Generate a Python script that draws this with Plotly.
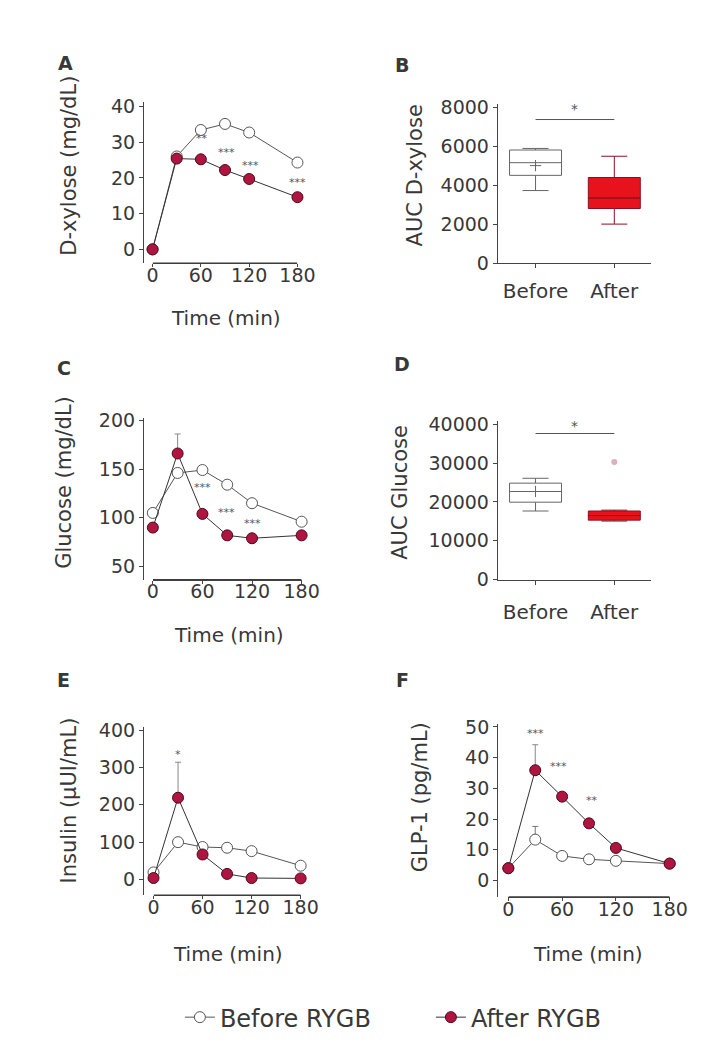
import plotly.graph_objects as go

W, H = 707, 1057

# ---------------- data ----------------
time = [0, 30, 60, 90, 120, 180]

xylose_before = [0, 26.0, 33.4, 35.1, 32.7, 24.3]
xylose_after = [0, 25.4, 25.2, 22.2, 19.7, 14.6]

glucose_before = [105, 146, 149, 134, 115, 96]
glucose_after = [90, 166, 104, 82, 79, 82]
glucose_after_err = [0, 20, 0, 0, 0, 0]

insulin_before = [19, 100, 87, 85, 76, 37]
insulin_after = [4, 219, 67, 15, 4, 3]
insulin_after_err = [0, 95, 0, 0, 0, 0]

glp1_before = [4.0, 13.3, 8.0, 6.9, 6.4, 5.5]
glp1_after = [4.0, 35.9, 27.3, 18.6, 10.6, 5.5]
glp1_before_err = [0, 4.3, 0, 0, 0, 0]
glp1_after_err = [0, 8.3, 0, 0, 0, 0]

groups = ["Before", "After"]
group_pos = [0, 1]

auc_xylose_lower = [3720, 2000]
auc_xylose_q1 = [4500, 2800]
auc_xylose_median = [5150, 3340]
auc_xylose_q3 = [5800, 4390]
auc_xylose_upper = [5880, 5480]
auc_xylose_mean = [5000, 3330]

auc_glucose_lower = [17680, 15100]
auc_glucose_q1 = [19950, 15330]
auc_glucose_median = [22700, 16500]
auc_glucose_q3 = [24850, 17680]
auc_glucose_upper = [26100, 17900]
auc_glucose_mean = [22700, 16500]
auc_glucose_outlier_after = [30300]

# significance marks (time, value, label)
stars_A = [(61, 31.1, "**"), (92, 27.2, "***"), (122, 23.4, "***"), (180, 18.8, "***")]
stars_C = [(60, 131.5, "***"), (89, 105.4, "***"), (120, 94.3, "***")]
stars_E = [(30, 335, "*")]
stars_F = [(30.5, 47.9, "***"), (56, 37.2, "***"), (93, 26.0, "**")]
sig_B = 7363
sig_D = 37626

# ---------------- style ----------------
FONT = "DejaVu Sans"
TXT = "#383838"
AXC = "#444444"
RED_MK = "#b01440"
RED_MK_LINE = "#4a0a1a"
OPEN_LINE = "#555555"
BOX_RED = "#e8121c"
BOX_RED_LINE = "#8a1020"


def fx(px):
    return px / W


def fy(py):
    return 1 - py / H


axis_common = dict(
    showline=True, linecolor=AXC, linewidth=1, ticks="outside", ticklen=4,
    tickcolor=AXC, tickwidth=1, showgrid=False, zeroline=False,
    tickfont=dict(family=FONT, size=19, color=TXT),
)

fig = go.Figure()


def add_time_panel(n, before, after, before_err=None, after_err=None, legend=False):
    xa = "x" if n == 1 else f"x{n}"
    ya = "y" if n == 1 else f"y{n}"
    eb = None
    if before_err is not None:
        eb = dict(type="data", symmetric=False, array=before_err,
                  arrayminus=[0] * len(before_err), color="#777777", thickness=1, width=3)
    ea = None
    if after_err is not None:
        ea = dict(type="data", symmetric=False, array=after_err,
                  arrayminus=[0] * len(after_err), color="#888888", thickness=1, width=3)
    fig.add_trace(go.Scatter(
        x=time, y=before, mode="lines+markers", name="Before RYGB",
        line=dict(color=OPEN_LINE, width=1),
        marker=dict(symbol="circle", size=11, color="white",
                    line=dict(color=OPEN_LINE, width=1)),
        error_y=eb, xaxis=xa, yaxis=ya, cliponaxis=False,
        showlegend=legend, legendgroup="b"))
    fig.add_trace(go.Scatter(
        x=time, y=after, mode="lines+markers", name="After RYGB",
        line=dict(color="#333333", width=1),
        marker=dict(symbol="circle", size=11, color=RED_MK,
                    line=dict(color=RED_MK_LINE, width=1)),
        error_y=ea, xaxis=xa, yaxis=ya, cliponaxis=False,
        showlegend=legend, legendgroup="a"))


add_time_panel(1, xylose_before, xylose_after, legend=True)
add_time_panel(3, glucose_before, glucose_after, after_err=glucose_after_err)
add_time_panel(5, insulin_before, insulin_after, after_err=insulin_after_err)
add_time_panel(6, glp1_before, glp1_after, before_err=glp1_before_err, after_err=glp1_after_err)


def add_box_panel(n, lower, q1, med, q3, upper, mean):
    xa, ya = f"x{n}", f"y{n}"
    fills = ["white", BOX_RED]
    lines = ["#666666", BOX_RED_LINE]
    for i in range(2):
        fig.add_trace(go.Box(
            x=[group_pos[i]], q1=[q1[i]], median=[med[i]], q3=[q3[i]],
            lowerfence=[lower[i]], upperfence=[upper[i]], mean=[mean[i]],
            boxmean=(i == 1), width=0.66, whiskerwidth=0.5,
            fillcolor=fills[i], line=dict(color=lines[i], width=1),
            boxpoints=False, xaxis=xa, yaxis=ya, showlegend=False))
    fig.add_trace(go.Scatter(
        x=[group_pos[0]], y=[mean[0]], mode="markers",
        marker=dict(symbol="cross-thin", size=8, line=dict(color="#666666", width=1)),
        xaxis=xa, yaxis=ya, showlegend=False))


add_box_panel(2, auc_xylose_lower, auc_xylose_q1, auc_xylose_median,
              auc_xylose_q3, auc_xylose_upper, auc_xylose_mean)
add_box_panel(4, auc_glucose_lower, auc_glucose_q1, auc_glucose_median,
              auc_glucose_q3, auc_glucose_upper, auc_glucose_mean)
fig.add_trace(go.Scatter(
    x=[group_pos[1]], y=auc_glucose_outlier_after, mode="markers",
    marker=dict(symbol="circle", size=6, color="#dcb0bc"),
    xaxis="x4", yaxis="y4", showlegend=False))

# ---------------- axes ----------------
time_x = dict(axis_common, range=[0, 180], tickvals=[0, 60, 120, 180],
              ticklen=3, ticklabelstandoff=-8)
cat_x = dict(axis_common, range=[-0.48, 1.47], tickvals=group_pos, ticktext=groups,
             tickfont=dict(family=FONT, size=20, color=TXT), ticklabelstandoff=6)

layout = dict(
    width=W, height=H, margin=dict(l=0, r=0, t=0, b=0),
    paper_bgcolor="white", plot_bgcolor="white",
    font=dict(family=FONT, color=TXT),
    # A
    xaxis=dict(time_x, domain=[fx(151.7), fx(301.7)], anchor="y"),
    yaxis=dict(axis_common, domain=[fy(259), fy(95)], range=[-3.84, 41.18],
               tickvals=[0, 10, 20, 30, 40], anchor="free", position=fx(141.7)),
    # B
    xaxis2=dict(cat_x, domain=[fx(509), fx(668)], anchor="y2"),
    yaxis2=dict(axis_common, domain=[fy(259), fy(96.7)], range=[0, 8166],
                tickvals=[0, 2000, 4000, 6000, 8000], tickformat="d", anchor="x2"),
    # C
    xaxis3=dict(time_x, domain=[fx(152), fx(306)], anchor="y3"),
    yaxis3=dict(axis_common, domain=[fy(581.7), fy(416.7)], range=[36.5, 202.6],
                tickvals=[50, 100, 150, 200], anchor="free", position=fx(141.7)),
    # D
    xaxis4=dict(cat_x, domain=[fx(509), fx(668)], anchor="y4", ticklabelstandoff=10),
    yaxis4=dict(axis_common, domain=[fy(581.7), fy(420)], range=[0, 40833],
                tickvals=[0, 10000, 20000, 30000, 40000], tickformat="d", anchor="x4"),
    # E
    xaxis5=dict(time_x, domain=[fx(152.7), fx(305)], anchor="y5"),
    yaxis5=dict(axis_common, domain=[fy(903.3), fy(731.7)], range=[-42, 408.7],
                tickvals=[0, 100, 200, 300, 400], anchor="free", position=fx(141.7)),
    # F
    xaxis6=dict(time_x, domain=[fx(520), fx(687)], anchor="y6"),
    yaxis6=dict(axis_common, domain=[fy(905), fy(728.3)], range=[-5.33, 51.1],
                tickvals=[0, 10, 20, 30, 40, 50], anchor="free", position=fx(508.3)),
    showlegend=True,
    legend=dict(orientation="h", x=fx(180), xanchor="left", y=fy(1028), yanchor="middle",
                font=dict(family=FONT, size=24, color=TXT), entrywidth=206,
                entrywidthmode="pixels", bgcolor="rgba(0,0,0,0)"),
)
fig.update_layout(**layout)

# ---------------- annotations ----------------
ann = []


def txt(x, y, s, size=20, angle=0, bold=False):
    ann.append(dict(x=fx(x), y=fy(y), xref="paper", yref="paper", text=f"<b>{s}</b>" if bold else s,
                    showarrow=False, textangle=angle, xanchor="center", yanchor="middle",
                    font=dict(family=FONT, size=size, color=TXT)))


# panel letters
for lab, (x, y) in zip("ABCDEF", [(62, 55), (410, 57), (60, 366), (410, 362), (60, 684), (410, 684)]):
    txt(x, y, lab, size=19, bold=True)

# y titles
txt(65, 160, "D-xylose (mg/dL)", size=21, angle=-90)
txt(423, 170, "AUC D-xylose", size=21, angle=-90)
txt(60, 482, "Glucose (mg/dL)", size=21, angle=-90)
txt(407, 493, "AUC Glucose", size=21, angle=-90)
txt(65, 807, "Insulin (µUI/mL)", size=21, angle=-90)
txt(428, 803, "GLP-1 (pg/mL)", size=21, angle=-90)
# x titles
txt(228, 315, "Time (min)", size=20)
txt(231, 638, "Time (min)", size=20)
txt(230, 963, "Time (min)", size=20)
txt(602, 963, "Time (min)", size=20)

# significance stars on time courses
for xa, ya, stars in [("x", "y", stars_A), ("x3", "y3", stars_C), ("x5", "y5", stars_E), ("x6", "y6", stars_F)]:
    for t, v, s in stars:
        ann.append(dict(x=t, y=v, xref=xa, yref=ya, text=s, showarrow=False,
                        font=dict(family=FONT, size=11, color="#555555")))

shapes = []
# x-axis baselines for the time-course panels (drawn explicitly)
for xa, ya in [("x", "y"), ("x3", "y3"), ("x5", "y5"), ("x6", "y6")]:
    shapes.append(dict(type="line", xref=xa, yref=f"{ya} domain", x0=0, x1=180, y0=0, y1=0,
                       line=dict(color="#3a3a3a", width=1.3), layer="above"))

# significance bars for AUC panels
for xa, ya, yv, top in [("x2", "y2", sig_B, 7900), ("x4", "y4", sig_D, 39500)]:
    shapes.append(dict(type="line", xref=xa, yref=ya, x0=0, x1=1, y0=yv, y1=yv,
                       line=dict(color="#555555", width=1)))
    ann.append(dict(x=0.5, y=top, xref=xa, yref=ya, text="*", showarrow=False,
                    font=dict(family=FONT, size=14, color="#555555")))

fig.update_layout(annotations=ann, shapes=shapes)
fig.write_html("out.html")
